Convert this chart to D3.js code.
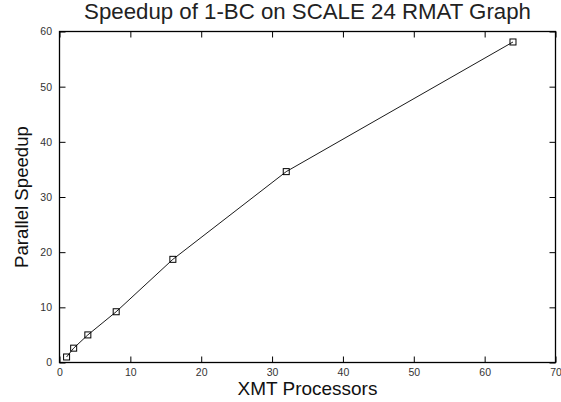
<!DOCTYPE html>
<html><head><meta charset="utf-8">
<script src="https://cdn.jsdelivr.net/npm/d3@7"></script>
<style>body{margin:0;background:#fff}svg{display:block}text{font-family:"Liberation Sans",Arial,sans-serif}</style>
</head><body><svg id="c" width="561" height="402"></svg>
<script>
const processors = [1, 2, 4, 8, 16, 32, 64];
const speedup = [1.0, 2.6, 5.0, 9.2, 18.7, 34.6, 58.1];
const xTicks = [0, 10, 20, 30, 40, 50, 60, 70];
const yTicks = [0, 10, 20, 30, 40, 50, 60];
const title = "Speedup of 1-BC on SCALE 24 RMAT Graph";
const xLabel = "XMT Processors";
const yLabel = "Parallel Speedup";

const svg = d3.select("#c");
const L = 59.5, R = 555.5, T = 31.5, B = 362.5;
const x = d3.scaleLinear().domain([0, 70]).range([L, R]);
const y = d3.scaleLinear().domain([0, 60]).range([B, T]);
const tc = "#333";

svg.append("g").attr("transform", `translate(0,${B})`)
  .call(d3.axisBottom(x).tickValues(xTicks).tickSizeInner(-6).tickSizeOuter(0).tickPadding(6.5))
  .call(g => { g.select(".domain").remove(); g.selectAll("line").attr("stroke", "#000");
    g.selectAll("text").attr("font-size", 10.5).attr("fill", tc); });
svg.append("g").attr("transform", `translate(0,${T})`)
  .call(d3.axisTop(x).tickValues(xTicks).tickSizeInner(-6).tickSizeOuter(0).tickFormat(""))
  .call(g => { g.select(".domain").remove(); g.selectAll("line").attr("stroke", "#000"); });
svg.append("g").attr("transform", `translate(${L},0)`)
  .call(d3.axisLeft(y).tickValues(yTicks).tickSizeInner(-6).tickSizeOuter(0).tickPadding(7.5))
  .call(g => { g.select(".domain").remove(); g.selectAll("line").attr("stroke", "#000");
    g.selectAll("text").attr("font-size", 10.5).attr("fill", tc); });
svg.append("g").attr("transform", `translate(${R},0)`)
  .call(d3.axisRight(y).tickValues(yTicks).tickSizeInner(-6).tickSizeOuter(0).tickFormat(""))
  .call(g => { g.select(".domain").remove(); g.selectAll("line").attr("stroke", "#000"); });

svg.append("rect").attr("x", L).attr("y", T).attr("width", R - L).attr("height", B - T)
  .attr("fill", "none").attr("stroke", "#000").attr("stroke-width", 1.3);

const pts = processors.map((p, i) => [p, speedup[i]]);
svg.append("path").datum(pts)
  .attr("d", d3.line().x(d => x(d[0])).y(d => y(d[1])))
  .attr("fill", "none").attr("stroke", "#000").attr("stroke-width", 0.9);
svg.selectAll("rect.m").data(pts).enter().append("rect").attr("class", "m")
  .attr("x", d => x(d[0]) - 3).attr("y", d => y(d[1]) - 3)
  .attr("width", 6).attr("height", 6)
  .attr("fill", "none").attr("stroke", "#000").attr("stroke-width", 1);

function fit(sel, w) {
  const m = sel.node().getComputedTextLength();
  sel.attr("font-size", 17.5 * w / m);
}
fit(svg.append("text").attr("x", (L + R) / 2).attr("y", 19).attr("text-anchor", "middle")
  .attr("font-size", 17.5).attr("fill", "#222").text(title), 447);
fit(svg.append("text").attr("x", (L + R) / 2).attr("y", 395).attr("text-anchor", "middle")
  .attr("font-size", 17.5).attr("fill", "#111").text(xLabel), 140);
fit(svg.append("text").attr("transform", `translate(28,${(T + B) / 2}) rotate(-90)`)
  .attr("text-anchor", "middle").attr("font-size", 17.5).attr("fill", "#111").text(yLabel), 142);
</script></body></html>
